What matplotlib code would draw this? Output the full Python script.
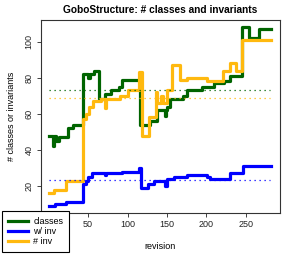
import matplotlib
matplotlib.use('Agg')
import matplotlib.pyplot as plt

plt.rcParams['font.family'] = ['Liberation Sans', 'DejaVu Sans']

# step breakpoints (revision, value)
classes_rev = [1, 5, 7, 9, 13, 24, 31, 43, 50, 53, 57, 64, 72, 79, 89, 93, 116, 129,
               137, 148, 149, 150, 154, 171, 175, 194, 210, 223, 230, 245, 254, 267, 282]
classes_val = [48, 42, 48, 45, 47, 52, 54, 82, 80, 82, 84, 68, 71, 73, 75, 79, 54, 56,
               62, 59, 62, 64, 68, 70, 73, 75, 77, 78, 81, 108, 102, 107, 107]

winv_rev = [1, 8, 22, 43, 47, 50, 55, 72, 73, 93, 114, 117, 126, 134, 148, 150, 159,
            175, 201, 205, 230, 247, 282]
winv_val = [9, 10, 11, 21, 23, 25, 27, 26, 27, 28, 30, 19, 21, 23, 20, 24, 25,
            26, 25, 24, 27, 31, 31]

ninv_rev = [1, 7, 22, 43, 47, 51, 56, 66, 72, 73, 91, 101, 115, 118, 127, 136, 138,
            142, 145, 150, 156, 166, 175, 201, 221, 230, 237, 245, 282]
ninv_val = [16, 18, 23, 57, 60, 64, 67, 68, 63, 68, 70, 73, 83, 48, 58, 72, 66,
            70, 66, 73, 87, 79, 80, 78, 84, 88, 84, 101, 101]

# mean lines (dotted)
classes_mean = 73.4
ninv_mean = 68.8
winv_mean = 23.4

labels = ['classes', 'w/ inv', '# inv']
colors = ['#006400', '#0000FF', '#FFB90F']

fig = plt.figure(figsize=(2.94, 2.54), dpi=100)
ax = fig.add_axes([0.138, 0.161, 0.814, 0.76])

lw = 2.3
ax.plot(classes_rev, classes_val, drawstyle='steps-post', color=colors[0], lw=lw, label=labels[0])
ax.plot(winv_rev, winv_val, drawstyle='steps-post', color=colors[1], lw=lw, label=labels[1])
ax.plot(ninv_rev, ninv_val, drawstyle='steps-post', color=colors[2], lw=lw, label=labels[2])

for m, c in zip([classes_mean, winv_mean, ninv_mean], colors):
    ax.plot([1, 281], [m, m], color=c, lw=0.9, ls=(0, (1, 3)))

span = 282 - 1
ax.set_xlim(1 - 0.04 * span, 282 + 0.04 * span)
ax.set_ylim(5, 112)
ax.set_xticks([50, 100, 150, 200, 250])
ax.set_yticks([20, 40, 60, 80, 100])
ax.tick_params(labelsize=6.5, length=3, width=0.6, pad=2, colors='#222222')
for lab in ax.get_yticklabels():
    lab.set_rotation(90)
    lab.set_va('center')
for s in ax.spines.values():
    s.set_linewidth(0.8)
    s.set_color('#333333')

ax.set_title('GoboStructure: # classes and invariants', fontsize=7.3, fontweight='bold', pad=5)
ax.set_xlabel('revision', fontsize=6.5, labelpad=9)
ax.set_ylabel('# classes or invariants', fontsize=6.5, labelpad=6)

leg = ax.legend(loc='lower left', bbox_to_anchor=(2 / 294, 2 / 254), bbox_transform=fig.transFigure,
                fontsize=6.5, frameon=True, fancybox=False, framealpha=1, edgecolor='black',
                borderpad=0.65, labelspacing=0.12, handlelength=2.2, handletextpad=0.6, borderaxespad=0)
leg.get_frame().set_linewidth(0.8)

fig.savefig('out.png', dpi=100)
